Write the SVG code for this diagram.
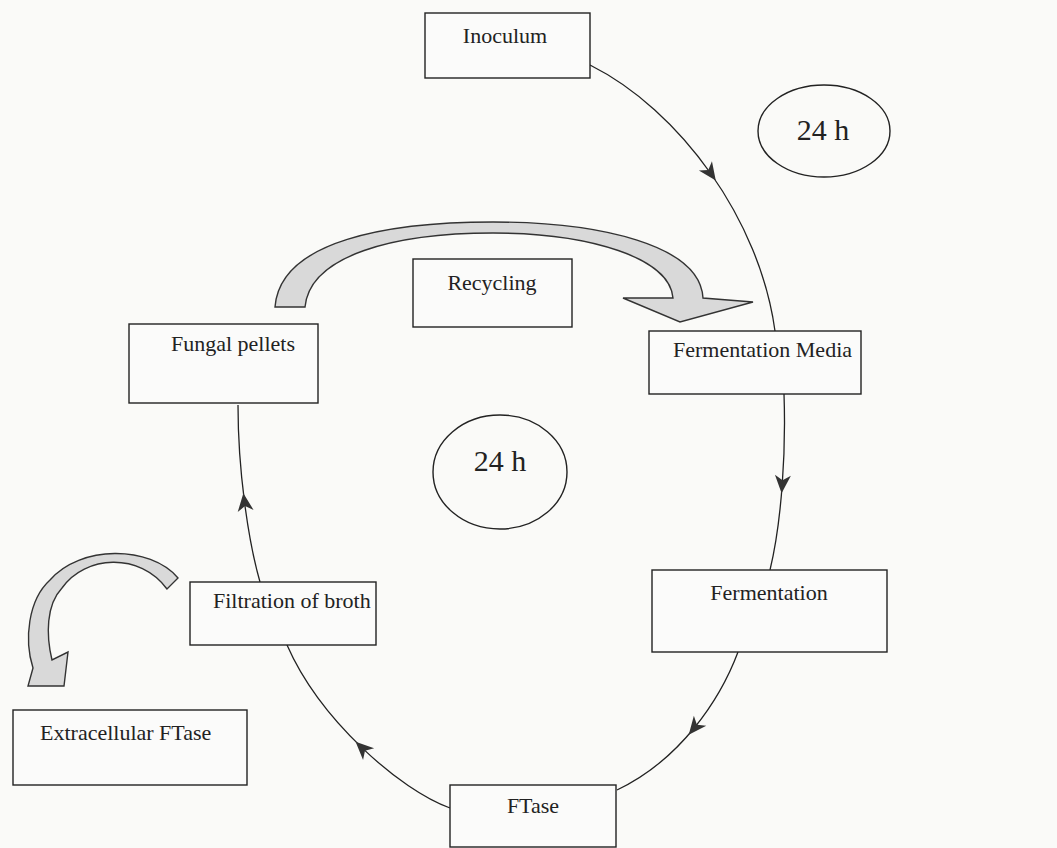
<svg xmlns="http://www.w3.org/2000/svg" width="1057" height="848" viewBox="0 0 1057 848">
  <defs>
    <style>
      .box { fill: #fbfbfa; stroke: #222; stroke-width: 1.4; }
      .ell { fill: none; stroke: #222; stroke-width: 1.4; }
      .lbl { font-family: "Liberation Serif", "Times New Roman", serif; font-size: 22px; fill: #222; }
      .big { font-family: "Liberation Serif", "Times New Roman", serif; font-size: 30px; fill: #222; text-anchor: middle; }
      .conn { fill: none; stroke: #222; stroke-width: 1.3; marker-mid: url(#arr); }
      .fat { fill: #d9d9d9; stroke: #333; stroke-width: 1.4; stroke-linejoin: miter; }
    </style>
    <marker id="arr" markerUnits="userSpaceOnUse" markerWidth="20" markerHeight="18" viewBox="0 0 20 18" refX="10" refY="9" orient="auto">
      <path d="M1,1 L19,9 L1,17 L6,9 Z" fill="#333"/>
    </marker>
  </defs>
  <rect x="0" y="0" width="1057" height="848" fill="#fafaf8"/>

  <g id="connectors">
    <path class="conn" d="M590,65 C635,87.5 677.5,126.25 710.6,173.25 C743.75,220.25 767.5,275.5 775,331"/>
    <path class="conn" d="M784,394 C785,422 784.5,453.5 782.25,484.25 C780,515 776,545 770,570"/>
    <path class="conn" d="M738,652 C729,676 714.5,703 694.4,727.75 C674.25,752.5 648.5,775 617,790"/>
    <path class="conn" d="M450,808 C425,799 392.5,777 362.1,747.9 C331.75,718.75 303.5,682.5 287,645"/>
    <path class="conn" d="M260,582 C254,561 248.5,533 244.5,502.1 C240.5,471.25 238,437.5 238,405"/>
    <path id="recycle-arrow" class="fat" d="M275,307 C280,240 390,222 493,222 C600,222 700,245 703,298 L753,302 L680,322 L623,298 L673,298 C670,258 590,233 493,233 C395,233 310,255 305,307 Z"/>
    <path id="extract-arrow" class="fat" d="M178,578 C150,545 80,545 50,580 C28,600 24,640 33,668 L28,686 L64,686 L68,652 L52,660 C46,635 46,605 62,588 C85,555 140,552 167,589 Z"/>
  </g>

  <g id="inoculum">
    <rect class="box" x="425" y="13" width="165" height="65"/>
    <text class="lbl" x="505" y="43" text-anchor="middle">Inoculum</text>
  </g>
  <g id="time-top">
    <ellipse class="ell" cx="824" cy="131" rx="66" ry="46"/>
    <text class="big" x="823" y="140">24 h</text>
  </g>
  <g id="recycling">
    <rect class="box" x="413" y="259" width="159" height="68"/>
    <text class="lbl" x="492" y="290" text-anchor="middle">Recycling</text>
  </g>
  <g id="fungal-pellets">
    <rect class="box" x="129" y="324" width="189" height="79"/>
    <text class="lbl" x="233" y="351" text-anchor="middle">Fungal pellets</text>
  </g>
  <g id="fermentation-media">
    <rect class="box" x="649" y="331" width="212" height="63"/>
    <text class="lbl" x="673" y="357">Fermentation Media</text>
  </g>
  <g id="time-center">
    <ellipse class="ell" cx="500" cy="472" rx="67" ry="57"/>
    <text class="big" x="500" y="471">24 h</text>
  </g>
  <g id="fermentation">
    <rect class="box" x="652" y="570" width="235" height="82"/>
    <text class="lbl" x="769" y="600" text-anchor="middle">Fermentation</text>
  </g>
  <g id="filtration">
    <rect class="box" x="190" y="582" width="186" height="63"/>
    <text class="lbl" x="213" y="608">Filtration of broth</text>
  </g>
  <g id="extracellular">
    <rect class="box" x="13" y="710" width="234" height="75"/>
    <text class="lbl" x="40" y="740">Extracellular FTase</text>
  </g>
  <g id="ftase">
    <rect class="box" x="450" y="785" width="166" height="62"/>
    <text class="lbl" x="533" y="813" text-anchor="middle">FTase</text>
  </g>
</svg>
